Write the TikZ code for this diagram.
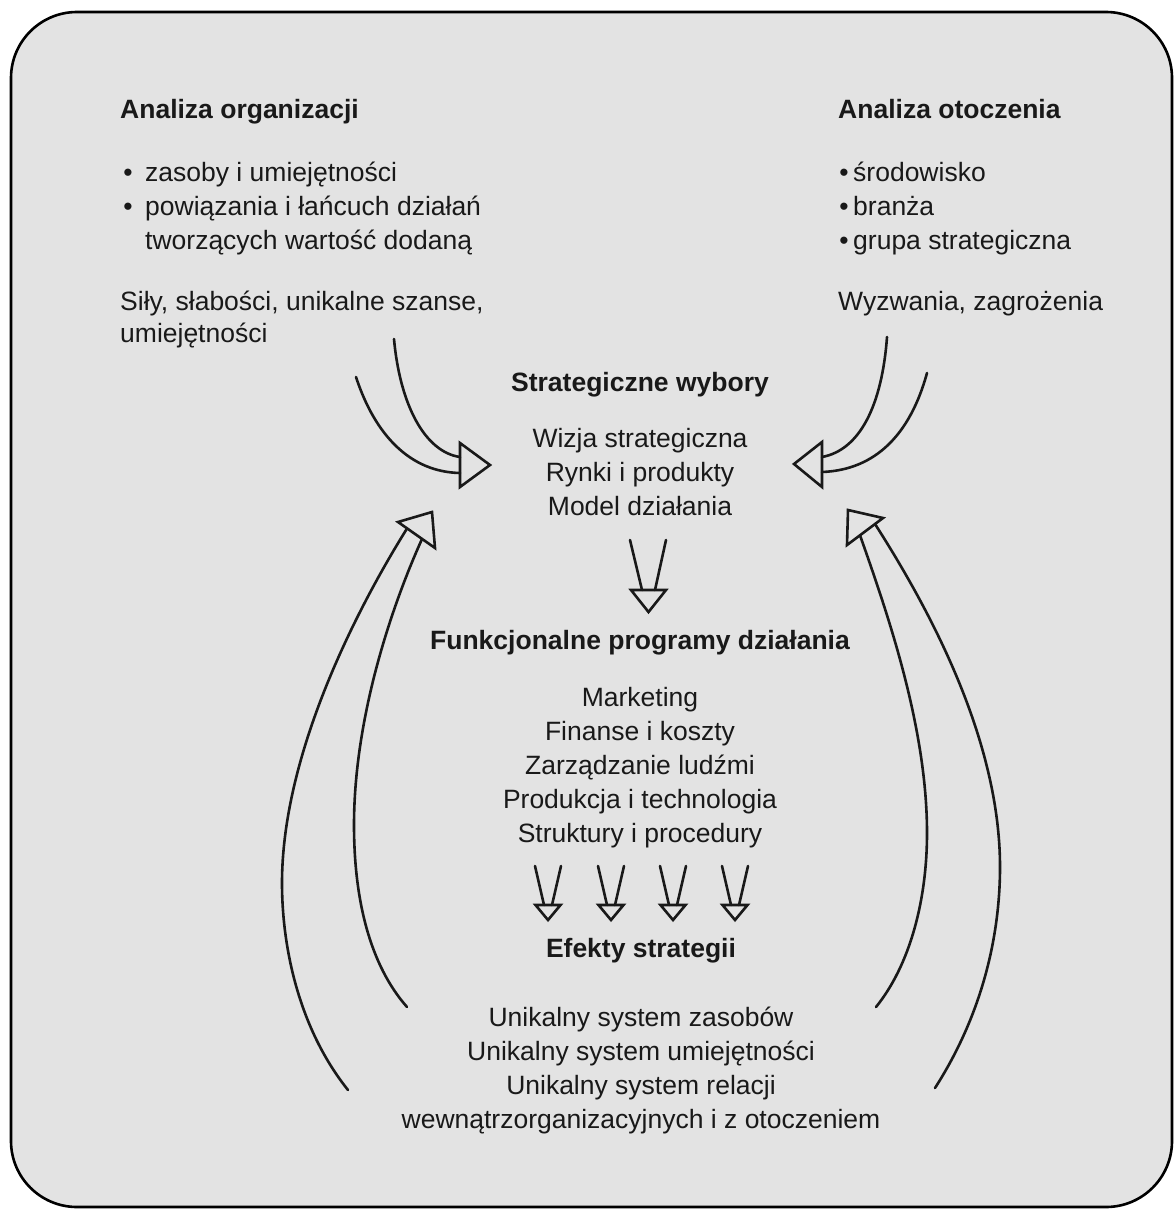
\documentclass[tikz,border=0pt]{standalone}
\usepackage{fontspec}
\setmainfont{Liberation Sans}
\begin{document}
\begin{tikzpicture}[x=1pt,y=-1pt,
  txt/.style={font=\fontsize{26.5}{34}\selectfont, inner sep=0pt, text=black!90},
  hd/.style={font=\fontsize{26.5}{34}\selectfont\bfseries, inner sep=0pt, text=black!90},
  ln/.style={line width=2.6pt, line cap=round, line join=round, black!90},
  head/.style={line width=2.6pt, line join=miter, black!90}
]
\useasboundingbox (0,0) rectangle (1174,1212);
\fill[white] (0,0) rectangle (1174,1212);
% frame
\draw[line width=2.6pt, fill=black!11, rounded corners=66pt] (11,12) rectangle (1172,1207);

% left column
\node[hd, anchor=base west] (ao) at (120,118) {Analiza organizacji};
\node[txt, anchor=base] (b1) at (128,181) {\textbullet};
\node[txt, anchor=base west] (l1) at (145,181) {zasoby i umiejętności};
\node[txt, anchor=base] (b2) at (128,215) {\textbullet};
\node[txt, anchor=base west] (l2) at (145,215) {powiązania i łańcuch działań};
\node[txt, anchor=base west] (l3) at (145,249) {tworzących wartość dodaną};
\node[txt, anchor=base west] (l4) at (120,310) {Siły, słabości, unikalne szanse,};
\node[txt, anchor=base west] (l5) at (120,342) {umiejętności};

% right column
\node[hd, anchor=base west] (aot) at (838,118) {Analiza otoczenia};
\node[txt, anchor=base] (rb1) at (844,181) {\textbullet};
\node[txt, anchor=base west] (r1) at (853,181) {środowisko};
\node[txt, anchor=base] (rb2) at (844,215) {\textbullet};
\node[txt, anchor=base west] (r2) at (853,215) {branża};
\node[txt, anchor=base] (rb3) at (844,249) {\textbullet};
\node[txt, anchor=base west] (r3) at (853,249) {grupa strategiczna};
\node[txt, anchor=base west] (r4) at (838,310) {Wyzwania, zagrożenia};

% centre
\node[hd, anchor=base] (sw) at (640,391) {Strategiczne wybory};
\node[txt, anchor=base] (c1) at (640,447) {Wizja strategiczna};
\node[txt, anchor=base] (c2) at (640,481) {Rynki i produkty};
\node[txt, anchor=base] (c3) at (640,515) {Model działania};

\node[hd, anchor=base] (fp) at (640,649) {Funkcjonalne programy działania};
\node[txt, anchor=base] (f1) at (640,706) {Marketing};
\node[txt, anchor=base] (f2) at (640,740) {Finanse i koszty};
\node[txt, anchor=base] (f3) at (640,774) {Zarządzanie ludźmi};
\node[txt, anchor=base] (f4) at (640,808) {Produkcja i technologia};
\node[txt, anchor=base] (f5) at (640,842) {Struktury i procedury};

\node[hd, anchor=base] (es) at (641,957) {Efekty strategii};
\node[txt, anchor=base] (e1) at (641,1026) {Unikalny system zasobów};
\node[txt, anchor=base] (e2) at (641,1060) {Unikalny system umiejętności};
\node[txt, anchor=base] (e3) at (641,1094) {Unikalny system relacji};
\node[txt, anchor=base] (e4) at (641,1128) {wewnątrzorganizacyjnych i z otoczeniem};

% top-left curved arrow
\draw[ln] (394,339) .. controls (400,405) and (425,452) .. (460,457);
\draw[ln] (356,377) .. controls (375,435) and (410,472) .. (460,473);
\draw[head] (460,443) -- (490,465) -- (460,487) -- cycle;

% top-right curved arrow
\draw[ln] (887,337) .. controls (882,405) and (860,450) .. (822,457);
\draw[ln] (927,373) .. controls (910,435) and (875,470) .. (822,472);
\draw[head] (822,442) -- (794,464) -- (822,487) -- cycle;

% bottom-left big arrow
\draw[ln] (348,1090) .. controls (300,1030) and (282,950) .. (282,883)
          .. controls (282,760) and (350,620) .. (407,528.5);
\draw[ln] (407,1007) .. controls (370,965) and (354,900) .. (354,825)
          .. controls (354,720) and (390,610) .. (422,539);
\draw[head] (398,522) -- (432,512) -- (435,548) -- cycle;

% bottom-right big arrow
\draw[ln] (876,1007) .. controls (910,965) and (927,900) .. (927,833)
          .. controls (927,730) and (890,620) .. (860,535.3);
\draw[ln] (935,1088) .. controls (985,1010) and (1000,930) .. (1000,867)
          .. controls (1000,740) and (930,610) .. (875,524);
\draw[head] (847,545) -- (883,518) -- (848,510) -- cycle;

% central down arrow
\draw[ln] (630,540) -- (642,590);
\draw[ln] (666,540) -- (655,590);
\draw[head] (631,590) -- (666,590) -- (648.5,612) -- cycle;

% four small arrows
\foreach \cx in {548,611,673,735}{
  \draw[ln] (\cx-13,866) -- (\cx-4,905);
  \draw[ln] (\cx+13,866) -- (\cx+4,905);
  \draw[head] (\cx-12.5,905) -- (\cx+12.5,905) -- (\cx,920) -- cycle;
}
\end{tikzpicture}
\end{document}
